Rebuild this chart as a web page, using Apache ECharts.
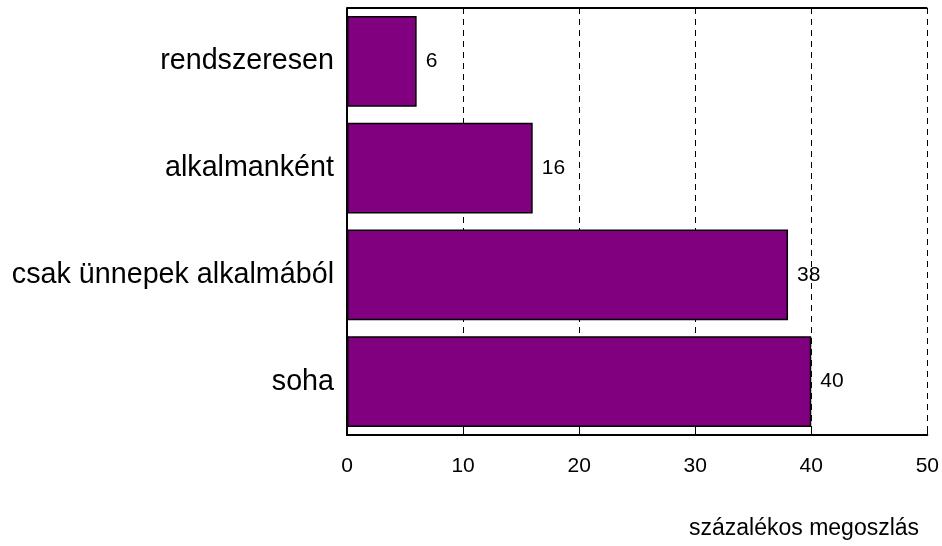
<!DOCTYPE html>
<html>
<head>
<meta charset="utf-8">
<script src="https://cdn.jsdelivr.net/npm/echarts@6/dist/echarts.min.js"></script>
<style>
  html, body { margin: 0; padding: 0; background: #fff; }
  #container { width: 942px; height: 546px; }
</style>
</head>
<body>
<div id="container"></div>
<script>
// data
var categories = ["rendszeresen", "alkalmanként", "csak ünnepek alkalmából", "soha"];
var values = [6, 16, 38, 40];
var axisTitle = "százalékos megoszlás";

var dom = document.getElementById("container");
var myChart = echarts.init(dom);

var option = {
  backgroundColor: "#fff",
  textStyle: { fontFamily: "Liberation Sans, Arial, sans-serif" },
  title: {
    text: axisTitle,
    left: 684,
    top: 512,
    textStyle: { fontSize: 23, fontWeight: "normal", color: "#000" }
  },
  grid: { left: 347, right: 11, top: 8, bottom: 111 },
  xAxis: {
    type: "value",
    min: 0,
    max: 50,
    interval: 10,
    axisLine: { show: true, lineStyle: { color: "#000", width: 2 } },
    axisTick: { show: true, inside: true, length: 5, lineStyle: { color: "#000" } },
    axisLabel: { fontSize: 21, color: "#000", margin: 21 },
    splitLine: { show: true, lineStyle: { color: "#000", type: [6, 5], width: 1 } }
  },
  yAxis: {
    type: "category",
    data: categories,
    inverse: true,
    axisLine: { show: true, lineStyle: { color: "#000", width: 2 } },
    axisTick: { show: false },
    axisLabel: { fontSize: 28.7, color: "#000", margin: 13 }
  },
  series: [
    {
      name: "Total",
      type: "bar",
      data: values,
      barCategoryGap: "15%",
      itemStyle: { color: "#800080", borderColor: "#000", borderWidth: 1.5 },
      label: { show: true, position: "right", distance: 9, fontSize: 21, color: "#000" }
    }
  ]
};
myChart.setOption(option, true);

// top edge of the plot frame
var gridRect = myChart.getModel().getComponent("grid").coordinateSystem.getRect();
myChart.setOption({
  graphic: [
    {
      type: "line",
      shape: { x1: gridRect.x, y1: gridRect.y, x2: gridRect.x + gridRect.width, y2: gridRect.y },
      style: { stroke: "#000", lineWidth: 2 },
      silent: true
    }
  ]
});
</script>
</body>
</html>
